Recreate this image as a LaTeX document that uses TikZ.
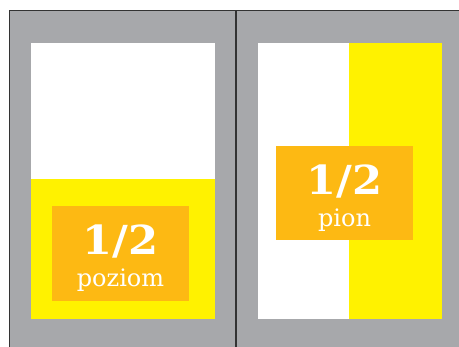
\documentclass[tikz,border=0pt]{standalone}
\usepackage{fontspec}
\setmainfont{DejaVu Serif}
\definecolor{pagegray}{HTML}{A7A8AB}
\definecolor{halfyellow}{HTML}{FFF200}
\definecolor{labelorange}{HTML}{FDB913}
\definecolor{edgedark}{HTML}{333333}
\tikzset{
  bignum/.style={text=white, font=\bfseries\fontsize{40}{40}\selectfont, inner sep=0pt, anchor=base},
  smalltxt/.style={text=white, font=\fontsize{24}{24}\selectfont, inner sep=0pt, anchor=base},
}
\begin{document}
\begin{tikzpicture}[x=1pt,y=-1pt]
\useasboundingbox (0,0) rectangle (459,347);
\fill[white] (0,0) rectangle (459,347);
\fill[pagegray] (9.5,10.5) rectangle (459,347);
% left page
\fill[white] (31,43) rectangle (215,179);
\fill[halfyellow] (31,179) rectangle (215,319);
\fill[labelorange] (52,206) rectangle (189,301);
\node[bignum] (lnum) at (120.5,255) {\scalebox{1.08}[1]{1/2}};
\node[smalltxt] (ltxt) at (120.5,287) {poziom};
% right page
\fill[white] (258,43) rectangle (349,319);
\fill[halfyellow] (349,43) rectangle (442,319);
\fill[labelorange] (276,146) rectangle (413,240);
\node[bignum] (rnum) at (344.5,195) {\scalebox{1.08}[1]{1/2}};
\node[smalltxt] (rtxt) at (344.5,227) {pion};
% edges
\draw[edgedark, line width=1.1pt] (9.5,347) -- (9.5,10.5) -- (459,10.5);
\draw[edgedark, line width=1.1pt] (236,10.5) -- (236,347);
\end{tikzpicture}
\end{document}
